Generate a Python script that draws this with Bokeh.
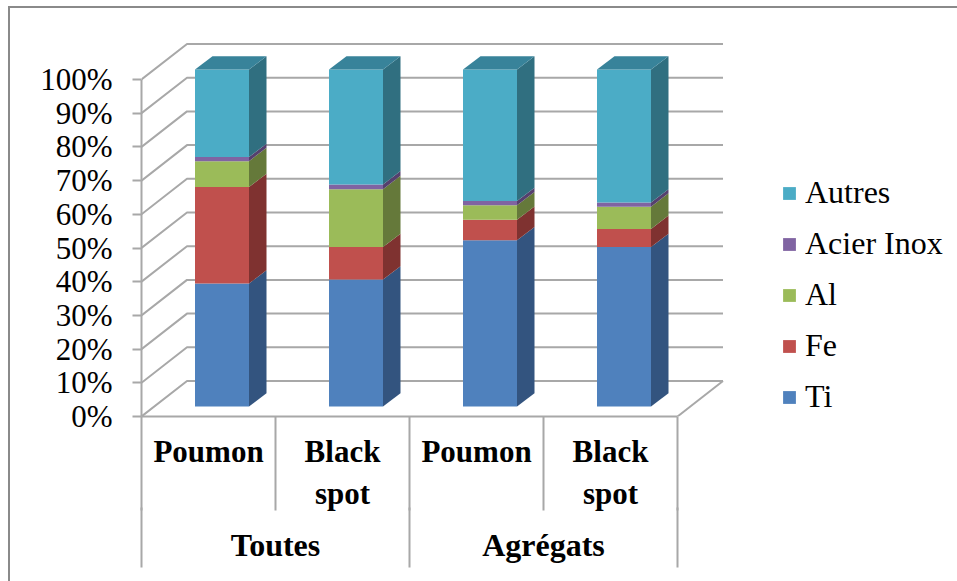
from bokeh.plotting import figure
from bokeh.models import (FixedTicker, LinearAxis, Legend, LegendItem, Range1d)
from bokeh.embed import file_html
from bokeh.resources import INLINE

# ---- data ----
groups = ["Toutes", "Agrégats"]
categories = ["Poumon", "Black\nspot", "Poumon", "Black\nspot"]
series_names = ["Ti", "Fe", "Al", "Acier Inox", "Autres"]
ti = [36.5, 37.7, 49.3, 47.3]
fe = [28.6, 9.6, 6.1, 5.4]
al = [7.7, 17.2, 4.3, 6.6]
inox = [1.2, 1.4, 1.3, 1.2]
autres = [26.0, 34.1, 39.0, 39.5]
y_ticks = [0, 10, 20, 30, 40, 50, 60, 70, 80, 90, 100]
y_labels = ["0%", "10%", "20%", "30%", "40%", "50%", "60%", "70%", "80%", "90%", "100%"]

front_colors = ["#4F81BD", "#C0504D", "#9BBB59", "#8064A2", "#4BACC6"]
side_colors = ["#33547F", "#7F3230", "#65793A", "#55406E", "#306F80"]
top_color = "#38839A"
GRAY = "#a8a8a8"
EDGE = "#8a8a8a"
FONT = "Liberation Serif"

# ---- pixel scales of the front plane ----
PX_X, PX_Y = 134.0, 3.37
W, H = 957, 581
LEFT, BOTTOM = 141, 165
edge_css = (f"linear-gradient({EDGE},{EDGE}) 8px 6px/100% 2px no-repeat, "
            f"linear-gradient({EDGE},{EDGE}) 8px 6px/2px 100% no-repeat")
p = figure(width=W, height=H, output_backend="svg", toolbar_location=None,
           min_border_left=LEFT, min_border_right=0, min_border_top=0, min_border_bottom=BOTTOM,
           x_range=Range1d(0, (W - LEFT) / PX_X), y_range=Range1d(0, (H - BOTTOM) / PX_Y),
           x_axis_type=None, y_axis_type=None, margin=(0, 0, -8, 0),
           styles={"background": edge_css})
p.grid.visible = False
p.outline_line_color = None
p.background_fill_color = None
p.border_fill_color = None

# depth of the 3D box
DX, DY = 45.5 / PX_X, 35.5 / PX_Y
n = len(categories)

# walls and floor
p.multi_line(xs=[[0, DX, n + DX] for _ in y_ticks], ys=[[v, v + DY, v + DY] for v in y_ticks],
             line_color=GRAY, line_width=2)
p.line(x=[n, n + DX], y=[0, DY], line_color=GRAY, line_width=2)

# bars
BW = 54 / PX_X
BX0 = 53.5 / PX_X
BY0 = 10 / PX_Y
SX, SY = 17.5 / PX_X, 13.3 / PX_Y
stack = [ti, fe, al, inox, autres]
bottoms = [0.0] * n
renderers = []
for name, vals, fc, sc in zip(series_names, stack, front_colors, side_colors):
    tops = [b + v for b, v in zip(bottoms, vals)]
    lefts = [i + BX0 for i in range(n)]
    rights = [l + BW for l in lefts]
    r = p.quad(left=lefts, right=rights, bottom=[b + BY0 for b in bottoms], top=[t + BY0 for t in tops],
               fill_color=fc, line_color=None)
    renderers.append(r)
    p.patches(xs=[[x, x + SX, x + SX, x] for x in rights],
              ys=[[b + BY0, b + BY0 + SY, t + BY0 + SY, t + BY0] for b, t in zip(bottoms, tops)],
              fill_color=sc, line_color=None)
    bottoms = tops
p.patches(xs=[[l, l + SX, l + BW + SX, l + BW] for l in lefts],
          ys=[[t + BY0, t + BY0 + SY, t + BY0 + SY, t + BY0] for t in bottoms],
          fill_color=top_color, line_color=None)

# y axis
ya = LinearAxis(ticker=FixedTicker(ticks=y_ticks), bounds=(0, 100),
                major_label_overrides={t: l for t, l in zip(y_ticks, y_labels)},
                major_tick_out=9, major_tick_in=0, minor_tick_out=0, minor_tick_in=0,
                major_label_standoff=20,
                major_label_text_font=FONT, major_label_text_font_size="31px", major_label_text_color="#000000",
                axis_line_color=GRAY, axis_line_width=2, major_tick_line_color=GRAY, major_tick_line_width=2)
p.add_layout(ya, "left")

# x axes: categories, then groups
cat_pos = [i + 0.5 for i in range(n)]
xa = LinearAxis(ticker=FixedTicker(ticks=cat_pos, minor_ticks=list(range(n + 1))), bounds=(0, n),
                major_label_overrides={t: l for t, l in zip(cat_pos, categories)},
                major_tick_out=0, major_tick_in=0, minor_tick_out=94, minor_tick_in=0,
                major_label_standoff=-77, major_label_orientation="horizontal",
                major_label_text_font=FONT, major_label_text_font_style="bold",
                major_label_text_font_size="31px", major_label_text_color="#000000",
                axis_line_color=GRAY, axis_line_width=2, minor_tick_line_color=GRAY, minor_tick_line_width=2)
p.add_layout(xa, "below")
group_pos = [1, 3]
xg = LinearAxis(ticker=FixedTicker(ticks=group_pos, minor_ticks=[0, 2, 4]), bounds=(0, n),
                major_label_overrides={t: l for t, l in zip(group_pos, groups)},
                major_tick_out=0, major_tick_in=0, minor_tick_out=54, minor_tick_in=6,
                major_label_standoff=-41, major_label_orientation="horizontal",
                major_label_text_font=FONT, major_label_text_font_style="bold",
                major_label_text_font_size="32px", major_label_text_color="#000000",
                axis_line_color=None, minor_tick_line_color=GRAY, minor_tick_line_width=2)
p.add_layout(xg, "below")

# legend
items = [LegendItem(label=nm, renderers=[r]) for nm, r in zip(series_names[::-1], renderers[::-1])]
leg = Legend(items=items, location=(640, 1), border_line_color=None, background_fill_alpha=0,
             glyph_width=16, glyph_height=16, label_standoff=8, spacing=14, padding=0, margin=0,
             label_text_font=FONT, label_text_font_size="32px", label_text_color="#000000")
p.add_layout(leg)

open("out.html", "w").write(file_html(p, INLINE))
